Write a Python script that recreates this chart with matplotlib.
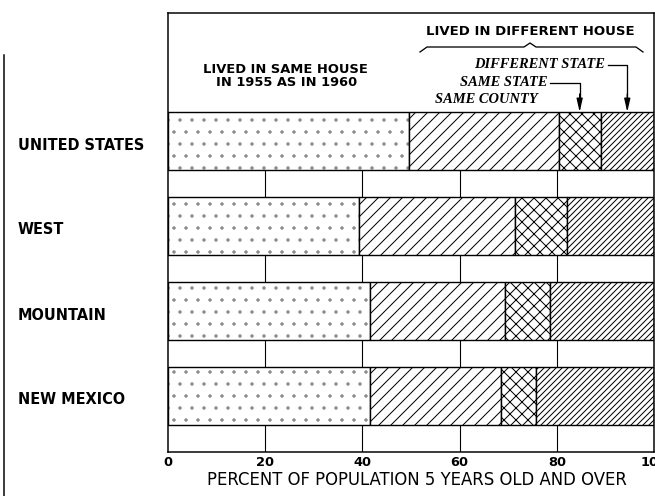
import matplotlib
matplotlib.use("Agg")
import matplotlib.pyplot as plt
import numpy as np

regions = ["UNITED STATES", "WEST", "MOUNTAIN", "NEW MEXICO"]
same_house = [49.5, 39.3, 41.5, 41.6]
same_county = [30.9, 32.0, 27.8, 26.9]
same_state = [8.6, 10.7, 9.4, 7.2]
different_state = [11.0, 18.0, 21.3, 24.3]
ticks = [0, 20, 40, 60, 80, 100]

W, H = 655, 496
DPI = 72
fig = plt.figure(figsize=(W / DPI, H / DPI), dpi=DPI)
plt.rcParams['hatch.linewidth'] = 1.0

L, R, T, B = 168, 654, 13, 452
ax = fig.add_axes([L / W, 1 - B / H, (R - L) / W, (B - T) / H])

ROW0, STEP, BH = 141, 85.0, 0.68


def py(p):
    return (p - ROW0) / STEP


def px(p):
    return (p - L) / (R - L) * 100


ax.set_xlim(0, 100)
ax.set_ylim(py(B), py(T))

ypos = np.arange(len(regions))
series = [same_house, same_county, same_state, different_state]
hatches = ['.', '//', 'xx', '////']
hatch_colors = ['#8a8a8a', 'black', 'black', 'black']
left = np.zeros(len(regions))
for vals, h, hc in zip(series, hatches, hatch_colors):
    # hatch layer
    ax.barh(ypos, vals, left=left, height=BH, color='white', edgecolor=hc,
            hatch=h, linewidth=0)
    # outline layer
    ax.barh(ypos, vals, left=left, height=BH, fill=False, edgecolor='black',
            linewidth=1.4)
    left = left + np.array(vals)

# gap-row dividers
bottoms = list(ypos + BH / 2)
tops = list(ypos[1:] - BH / 2) + [py(B)]
for b, t in zip(bottoms, tops):
    ax.vlines(ticks[1:-1], b, t, color='black', linewidth=1.1)

for s in ax.spines.values():
    s.set_linewidth(1.5)

ax.set_yticks([])
ax.set_xticks(ticks)
ax.set_xticklabels([str(t) for t in ticks], fontweight='bold', fontsize=13)
ax.tick_params(axis='x', length=0, pad=4)

# header texts
ax.text(px(530), py(32), "LIVED IN DIFFERENT HOUSE", ha='center', va='center',
        fontsize=13.3, fontweight='bold')
ax.text(px(285), py(70), "LIVED IN SAME HOUSE", ha='center', va='center',
        fontsize=13, fontweight='bold')
ax.text(px(287), py(83), "IN 1955 AS IN 1960", ha='center', va='center',
        fontsize=13, fontweight='bold')

# brace
bx = [px(420), px(427), px(524), px(530), px(536), px(636), px(643)]
by = [py(52), py(47), py(47), py(43), py(47), py(47), py(52)]
ax.plot(bx, by, color='black', linewidth=1.3, clip_on=False)

ital = dict(family='Liberation Serif', fontstyle='italic', fontweight='bold',
            fontsize=14.5, va='center', ha='right')
ax.text(px(605), py(65), "DIFFERENT STATE", **ital)
ax.text(px(547), py(83), "SAME STATE", **ital)
ax.text(px(538), py(100), "SAME COUNTY", **ital)

# arrows pointing at the US segments
ss_mid = same_house[0] + same_county[0] + same_state[0] / 2
ds_mid = same_house[0] + same_county[0] + same_state[0] + different_state[0] / 2
for x0, xm, yy in [(px(550), ss_mid, py(83)), (px(608), ds_mid, py(65))]:
    ax.plot([x0, xm, xm], [yy, yy, py(100)], color='black', linewidth=1.3)
    ax.annotate("", xy=(xm, -BH / 2), xytext=(xm, py(94)),
                arrowprops=dict(arrowstyle='-|>,head_width=0.25,head_length=1.1',
                                color='black', lw=1.3, shrinkA=0, shrinkB=0))

# row labels
for i, name in enumerate(regions):
    fig.text(18 / W, 1 - (ROW0 + 4 + i * STEP) / H, name, ha='left', va='center',
             fontsize=14.5, fontweight='bold')

fig.text(417 / W, 1 - 480 / H, "PERCENT OF POPULATION 5 YEARS OLD AND OVER",
         ha='center', va='center', fontsize=16.5)

# left border of the page
fig.add_artist(plt.Line2D([4 / W, 4 / W], [0, 1 - 55 / H], color='black',
                          linewidth=1.5, transform=fig.transFigure))

fig.savefig("out.png", dpi=DPI)
